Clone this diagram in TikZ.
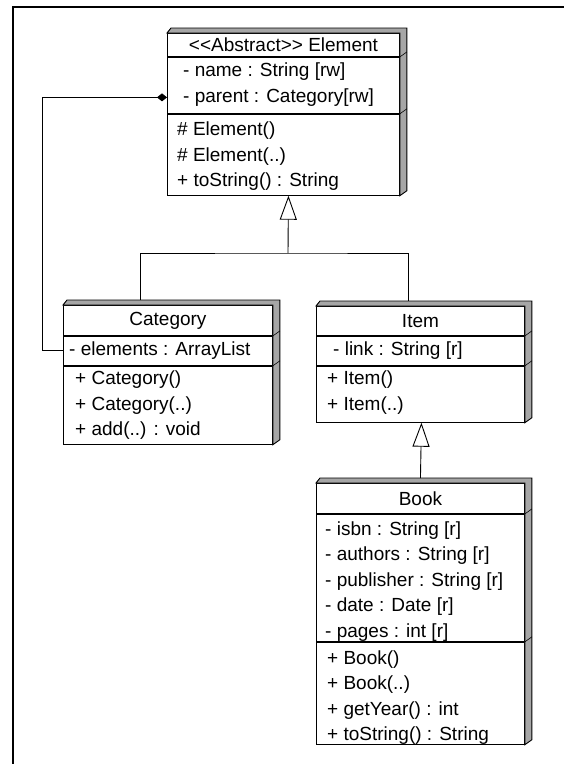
\documentclass[tikz,border=0pt]{standalone}
\usepackage{fontspec}
\newfontfamily\umlfont{Liberation Sans}
\usetikzlibrary{arrows.meta}

\tikzset{
  cbox/.style={draw, fill=white, line width=0.9pt, inner sep=0pt, anchor=north west,
    minimum width=#1, font=\umlfont\fontsize{19}{25.5}\selectfont},
  members/.style={anchor=west, inner sep=0pt, align=left,
    font=\umlfont\fontsize{19}{25.5}\selectfont},
  shade3d/.style={fill=black!35, draw=black, line width=0.9pt},
  gen/.style={line width=0.9pt, -{Triangle[open, length=24pt, width=17pt]}},
  owns/.style={line width=0.9pt, -{Diamond[length=10pt, width=8pt]}},
}

% 3d edge of a class box: title, attributes, methods
\newcommand{\boxshade}[3]{%
  \filldraw[shade3d] (#1.north west) -- ++(4,-5) -- ([xshift=7pt,yshift=5pt]#1.north east)
    -- ([xshift=7pt,yshift=5pt]#3.south east) -- (#3.south east) -- (#1.north east) -- cycle;
  \draw[line width=0.6pt] (#2.north east) -- ++(7,-5);
  \draw[line width=0.6pt] (#3.north east) -- ++(7,-5);
}

\begin{document}
\begin{tikzpicture}[x=1pt, y=-1pt]
  \useasboundingbox (0,0) rectangle (564,764);
  % frame
  \draw[line width=2pt] (564,7) -- (13,7) -- (13,764);

  % Element
  \node[cbox=232pt, minimum height=23pt] (elemT) at (167,33) {<<Abstract>> Element};
  \node[cbox=232pt, minimum height=56pt] (elemA) at (elemT.south west) {};
  \node[cbox=232pt, minimum height=81pt] (elemM) at (elemA.south west) {};
  \node[members] (elemAtxt) at ([xshift=16pt,yshift=1pt]elemA.west)
    {- name : String [rw]\\- parent : Category[rw]};
  \node[members] (elemMtxt) at ([xshift=10pt,yshift=-1.5pt]elemM.west)
    {\# Element()\\\# Element(..)\\+ toString() : String};
  \boxshade{elemT}{elemA}{elemM}

  % Category
  \node[cbox=209pt, minimum height=30pt] (catT) at (63,305) {Category};
  \node[cbox=209pt, minimum height=29pt] (catA) at (catT.south west) {};
  \node[cbox=209pt, minimum height=78pt] (catM) at (catA.south west) {};
  \node[members] (catAtxt) at ([xshift=6pt]catA.west) {- elements : ArrayList};
  \node[members] (catMtxt) at ([xshift=12pt]catM.west)
    {+ Category()\\+ Category(..)\\+ add(..) : void};
  \boxshade{catT}{catA}{catM}

  % Item
  \node[cbox=208pt, minimum height=29pt] (itemT) at (316,306) {Item};
  \node[cbox=208pt, minimum height=29pt] (itemA) at (itemT.south west) {};
  \node[cbox=208pt, minimum height=56pt] (itemM) at (itemA.south west) {};
  \node[members] (itemAtxt) at ([xshift=17pt]itemA.west) {- link : String [r]};
  \node[members] (itemMtxt) at ([xshift=11pt,yshift=1.5pt]itemM.west)
    {+ Item()\\+ Item(..)};
  \boxshade{itemT}{itemA}{itemM}

  % Book
  \node[cbox=208pt, minimum height=30pt] (bookT) at (316,483) {Book};
  \node[cbox=208pt, minimum height=127pt] (bookA) at (bookT.south west) {};
  \node[cbox=208pt, minimum height=102pt] (bookM) at (bookA.south west) {};
  \node[members] (bookAtxt) at ([xshift=9pt,yshift=-3.5pt]bookA.west)
    {- isbn : String [r]\\- authors : String [r]\\- publisher : String [r]\\- date : Date [r]\\- pages : int [r]};
  \node[members] (bookMtxt) at ([xshift=11pt,yshift=-4.5pt]bookM.west)
    {+ Book()\\+ Book(..)\\+ getYear() : int\\+ toString() : String};
  \boxshade{bookT}{bookA}{bookM}

  % inheritance
  \coordinate (bus) at (288,253);
  \draw[gen] (bus) -- ([xshift=5pt]elemM.south);
  \draw[line width=0.9pt] ([xshift=-27.5pt,yshift=5pt]catT.north) |- (bus)
    -| ([xshift=-12pt,yshift=5pt]itemT.north);
  \draw[gen] ([yshift=5pt]bookT.north) -- ([xshift=1pt]itemM.south);

  % parent link
  \draw[owns] (catA.west) -- ++(-21,0) |- ([yshift=-12pt]elemA.west);
\end{tikzpicture}
\end{document}
